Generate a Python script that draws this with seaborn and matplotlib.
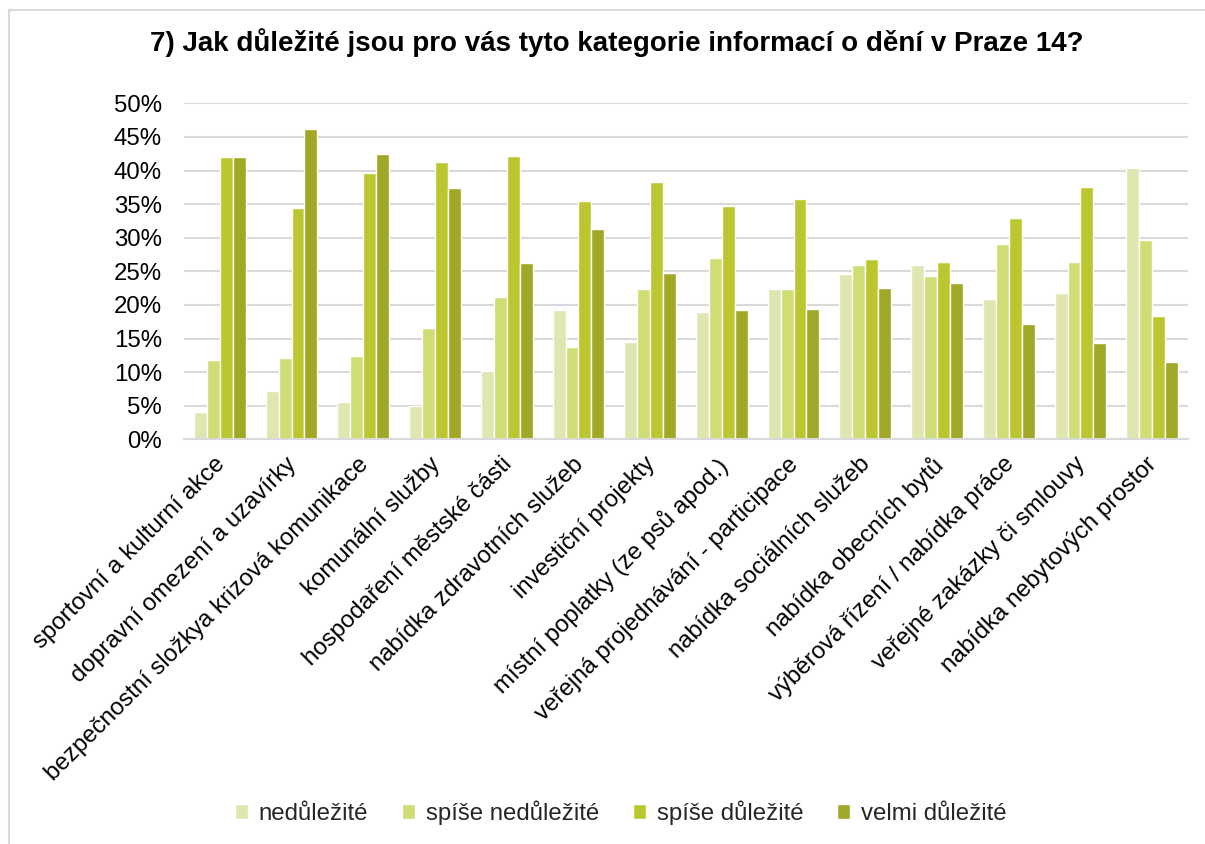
import matplotlib
matplotlib.use("Agg")
import matplotlib.pyplot as plt
import matplotlib.transforms as mtransforms
import seaborn as sns
import pandas as pd
from matplotlib.lines import Line2D
from matplotlib.ticker import PercentFormatter

categories = [
    "sportovní a kulturní akce",
    "dopravní omezení a uzavírky",
    "bezpečnostní složkya krizová komunikace",
    "komunální služby",
    "hospodaření městské části",
    "nabídka zdravotních služeb",
    "investiční projekty",
    "místní poplatky (ze psů apod.)",
    "veřejná projednávání - participace",
    "nabídka sociálních služeb",
    "nabídka obecních bytů",
    "výběrová řízení / nabídka práce",
    "veřejné zakázky či smlouvy",
    "nabídka nebytových prostor",
]
series_names = ["nedůležité", "spíše nedůležité", "spíše důležité", "velmi důležité"]
nedulezite = [4.0, 7.2, 5.6, 4.9, 10.2, 19.3, 14.5, 19.0, 22.4, 24.6, 26.0, 20.9, 21.7, 40.4]
spise_nedulezite = [11.8, 12.1, 12.4, 16.5, 21.2, 13.8, 22.4, 27.0, 22.4, 25.9, 24.3, 29.1, 26.4, 29.6]
spise_dulezite = [42.0, 34.4, 39.6, 41.3, 42.2, 35.5, 38.3, 34.7, 35.7, 26.9, 26.4, 32.9, 37.5, 18.4]
velmi_dulezite = [42.0, 46.2, 42.4, 37.4, 26.3, 31.3, 24.8, 19.3, 19.4, 22.5, 23.3, 17.1, 14.3, 11.5]
colors = ["#E0E6B0", "#D0DC74", "#BCC62E", "#A0A826"]

rows = []
for name, vals in zip(series_names,
                      [nedulezite, spise_nedulezite, spise_dulezite, velmi_dulezite]):
    for c, v in zip(categories, vals):
        rows.append({"kategorie": c, "serie": name, "hodnota": v / 100.0})
df = pd.DataFrame(rows)

sns.set_theme(style="white")
plt.rcParams["font.family"] = ["Liberation Sans", "DejaVu Sans"]

fig = plt.figure(figsize=(12.05, 8.44), dpi=100)
ax = fig.add_axes([0.1527, 0.4795, 0.8332, 0.3981])

sns.barplot(data=df, x="kategorie", y="hodnota", hue="serie", order=categories,
            hue_order=series_names, palette=colors, saturation=1, width=0.72,
            gap=0, ax=ax, legend=True, errorbar=None)

ax.set_ylim(0, 0.5)
ax.set_yticks([i * 0.05 for i in range(11)])
ax.yaxis.set_major_formatter(PercentFormatter(1.0, decimals=0))
ax.set_xlim(-0.5, len(categories) - 0.5)
ax.grid(axis="y", color="#D9D9D9", linewidth=1.5)
ax.set_axisbelow(True)
for s in ["top", "right", "left"]:
    ax.spines[s].set_visible(False)
ax.spines["bottom"].set_color("#D9D9D9")
ax.spines["bottom"].set_linewidth(1.5)
ax.set_xlabel("")
ax.set_ylabel("")
ax.tick_params(axis="y", length=0, pad=16, labelsize=17.3, labelcolor="#000000")
ax.tick_params(axis="x", length=0, pad=10, labelsize=17.3, labelcolor="#000000")
offset = mtransforms.ScaledTranslation(-6 / 100, 0, fig.dpi_scale_trans)
for lbl in ax.get_xticklabels():
    lbl.set_rotation(45)
    lbl.set_ha("right")
    lbl.set_rotation_mode("anchor")
    lbl.set_transform(lbl.get_transform() + offset)

handles, labels = ax.get_legend_handles_labels()
ax.legend_.remove()
fig.legend(handles, labels, loc="center", bbox_to_anchor=(0.515, 0.037), ncol=4,
           frameon=False, fontsize=17.3, handlelength=0.55, handleheight=0.55,
           handletextpad=0.45, columnspacing=1.4)

fig.text(0.512, 0.949, "7) Jak důležité jsou pro vás tyto kategorie informací o dění v Praze 14?",
         ha="center", va="center", fontsize=20, fontweight="bold", color="#000000")

fig.add_artist(Line2D([9 / 1205, 9 / 1205], [0, 1 - 10 / 844], transform=fig.transFigure,
                      color="#D9D9D9", linewidth=1.5))
fig.add_artist(Line2D([9 / 1205, 1], [1 - 10 / 844, 1 - 10 / 844], transform=fig.transFigure,
                      color="#D9D9D9", linewidth=1.5))

fig.savefig("out.png", dpi=100, facecolor="white")
